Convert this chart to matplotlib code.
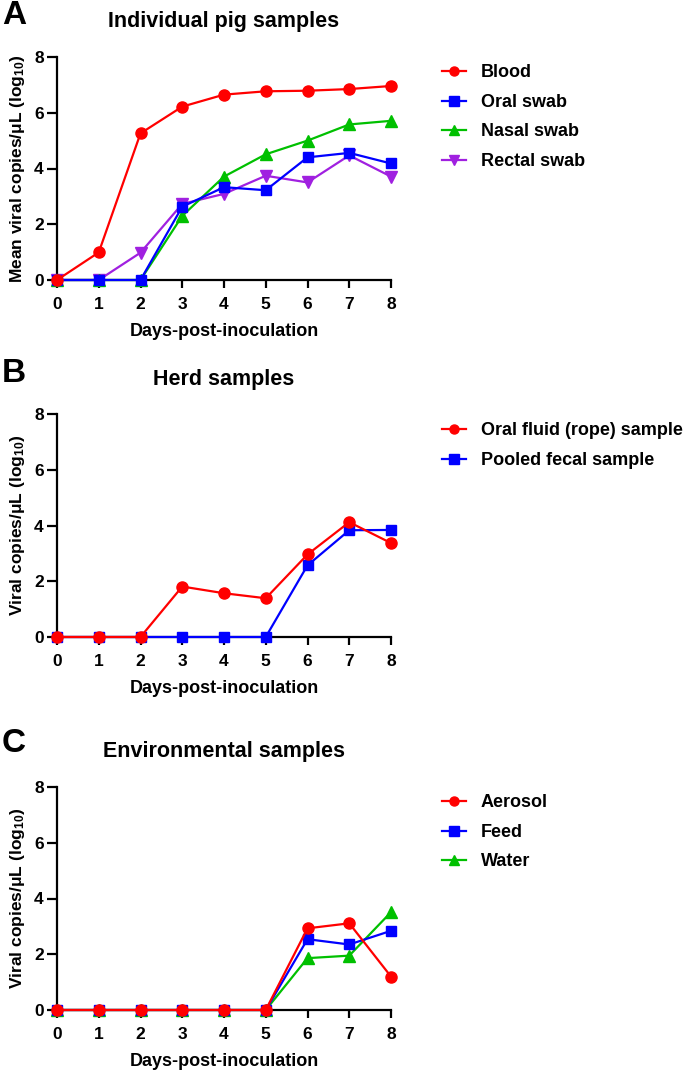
import matplotlib
matplotlib.use("Agg")
import matplotlib.pyplot as plt

plt.rcParams['font.family'] = ['Liberation Sans', 'DejaVu Sans']
plt.rcParams['font.weight'] = 'bold'
plt.rcParams['mathtext.default'] = 'regular'

days = [0, 1, 2, 3, 4, 5, 6, 7, 8]
day_ticks = [0, 1, 2, 3, 4, 5, 6, 7, 8]
y_ticks = [0, 2, 4, 6, 8]

# Panel A
blood = [0, 0.99, 5.26, 6.22, 6.65, 6.77, 6.79, 6.85, 6.96]
oral_swab = [0, 0, 0, 2.63, 3.33, 3.22, 4.40, 4.56, 4.18]
nasal_swab = [0, 0, 0, 2.30, 3.71, 4.51, 5.00, 5.58, 5.71]
rectal_swab = [0, 0, 0.98, 2.73, 3.09, 3.74, 3.50, 4.47, 3.71]

# Panel B
oral_fluid = [0, 0, 0, 1.81, 1.57, 1.39, 2.96, 4.12, 3.37]
pooled_fecal = [0, 0, 0, 0, 0, 0, 2.57, 3.83, 3.84]

# Panel C
aerosol = [0, 0, 0, 0, 0, 0, 2.93, 3.11, 1.20]
feed = [0, 0, 0, 0, 0, 0, 2.54, 2.35, 2.84]
water = [0, 0, 0, 0, 0, 0, 1.86, 1.95, 3.51]

RED = '#FF0000'
BLUE = '#0000FF'
GREEN = '#00C000'
PURPLE = '#A020E0'

fig = plt.figure(figsize=(6.85, 10.70), dpi=100)
W, H = 685, 1070

def axes_px(x0, x1, ytop, ybot):
    return fig.add_axes([x0 / W, 1 - ybot / H, (x1 - x0) / W, (ybot - ytop) / H])

panels = [
    dict(letter='A', title='Individual pig samples', ytop=57, ybot=280,
         title_y=22, letter_y=16, leg_y=72,
         ylabel=r'Mean viral copies/μL (log$_{10}$)',
         series=[(blood, 'Blood', RED, 'o', 8),
                 (oral_swab, 'Oral swab', BLUE, 's', 7.2),
                 (nasal_swab, 'Nasal swab', GREEN, '^', 8),
                 (rectal_swab, 'Rectal swab', PURPLE, 'v', 8)],
         zorder=[4, 3, 2, 1]),
    dict(letter='B', title='Herd samples', ytop=414, ybot=637,
         title_y=379, letter_y=373, leg_y=430,
         ylabel=r'Viral copies/μL (log$_{10}$)',
         series=[(oral_fluid, 'Oral fluid (rope) sample', RED, 'o', 8),
                 (pooled_fecal, 'Pooled fecal sample', BLUE, 's', 7.2)],
         zorder=[4, 3]),
    dict(letter='C', title='Environmental samples', ytop=787, ybot=1010,
         title_y=752, letter_y=743, leg_y=802,
         ylabel=r'Viral copies/μL (log$_{10}$)',
         series=[(aerosol, 'Aerosol', RED, 'o', 8),
                 (feed, 'Feed', BLUE, 's', 7.2),
                 (water, 'Water', GREEN, '^', 8)],
         zorder=[4, 3, 2]),
]

for p in panels:
    ax = axes_px(57, 391, p['ytop'], p['ybot'])
    handles = []
    for (vals, lab, col, mk, ms), z in zip(p['series'], p['zorder']):
        h, = ax.plot(days, vals, color=col, marker=mk, markersize=ms, lw=1.6,
                     label=lab, clip_on=False, zorder=z)
        handles.append(h)
    ax.set_xlim(0, 8)
    ax.set_ylim(0, 8)
    ax.set_xticks(day_ticks)
    ax.set_yticks(y_ticks)
    for s in ['top', 'right']:
        ax.spines[s].set_visible(False)
    for s in ['left', 'bottom']:
        ax.spines[s].set_linewidth(1.6)
        ax.spines[s].set_zorder(0)
    ax.tick_params(axis='x', width=1.6, length=6, labelsize=12.5, pad=6)
    ax.tick_params(axis='y', width=1.6, length=7.5, labelsize=12.5, pad=2)
    for t in ax.get_xticklabels() + ax.get_yticklabels():
        t.set_fontweight('bold')
    ax.set_xlabel('Days-post-inoculation', fontsize=13, fontweight='bold', labelpad=8)
    ax.set_ylabel(p['ylabel'], fontsize=12.5, fontweight='bold', labelpad=5)
    fig.text(224 / W, 1 - p['title_y'] / H, p['title'], ha='center', va='center',
             fontsize=15.5, fontweight='bold')
    fig.text(2 / W, 1 - p['letter_y'] / H, p['letter'], ha='left', va='center',
             fontsize=24, fontweight='bold')
    leg = ax.legend(handles=handles, loc='upper left',
                    bbox_to_anchor=(435 / W, 1 - (p['leg_y'] - 15) / H),
                    bbox_transform=fig.transFigure, frameon=False,
                    fontsize=13, handlelength=1.3, handletextpad=0.85,
                    labelspacing=0.7, borderaxespad=0)
    for t in leg.get_texts():
        t.set_fontweight('bold')
    for lh in leg.get_lines():
        lh.set_markersize(6.5)

fig.savefig('out.png', dpi=100)
